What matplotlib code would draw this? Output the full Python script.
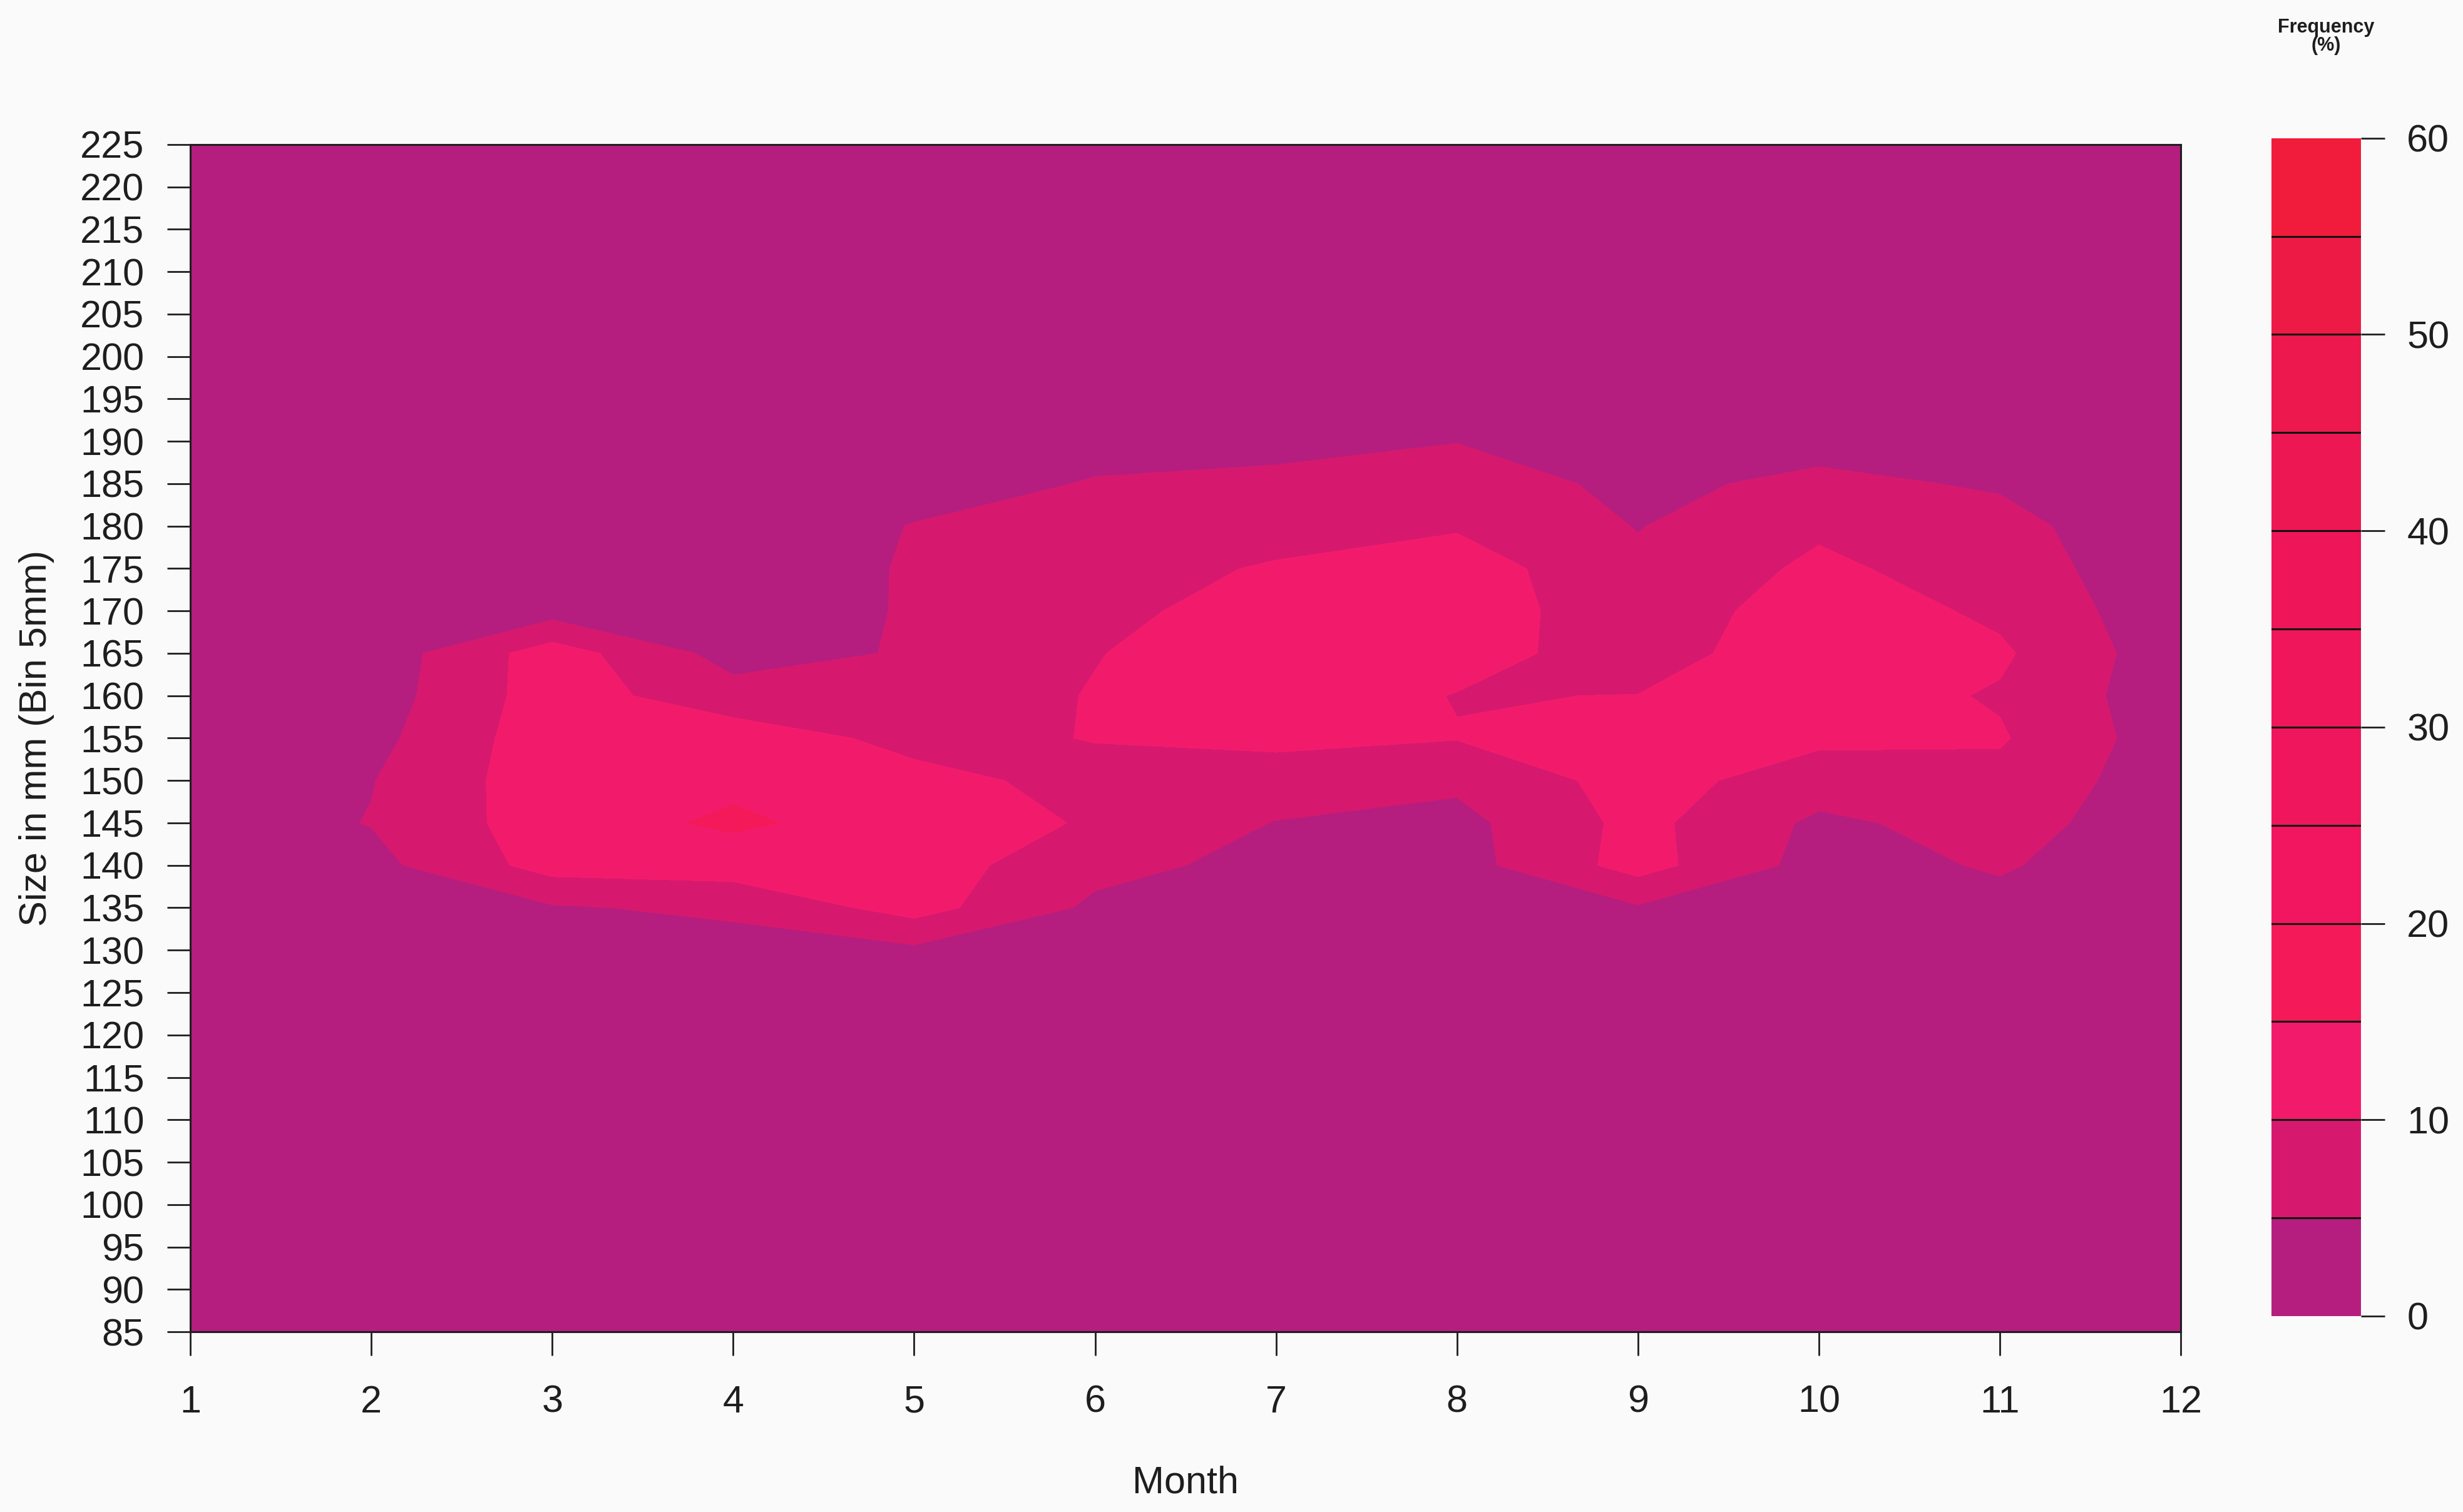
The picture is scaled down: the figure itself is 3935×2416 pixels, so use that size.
import numpy as np
import matplotlib
matplotlib.use("Agg")
import matplotlib.pyplot as plt

plt.rcParams['font.family'] = ['Liberation Sans', 'DejaVu Sans']

# Monthly length-frequency distribution (% of catch per 5 mm size class)
months = [1, 2, 3, 4, 5, 6, 7, 8, 9, 10, 11, 12]
sizes = list(range(85, 230, 5))

freq = [
    # months: 1     2     3     4     5     6     7     8     9    10    11    12
    [0.0, 0.2, 0.3, 0.5, 0.4, 0.6, 0.5, 0.4, 0.3, 0.3, 0.2, 0.1],    # 85
    [0.2, 0.3, 0.5, 0.6, 0.7, 0.8, 0.6, 0.5, 0.4, 0.3, 0.3, 0.2],    # 90
    [0.3, 0.5, 0.6, 0.8, 0.9, 1.0, 0.8, 0.7, 0.6, 0.5, 0.4, 0.2],    # 95
    [0.4, 0.6, 0.8, 1.0, 1.1, 1.2, 1.0, 0.9, 0.8, 0.6, 0.5, 0.3],    # 100
    [0.5, 0.8, 1.0, 1.2, 1.3, 1.4, 1.2, 1.0, 0.9, 0.8, 0.6, 0.4],    # 105
    [0.6, 0.9, 1.2, 1.4, 1.5, 1.6, 1.4, 1.2, 1.0, 0.9, 0.8, 0.5],    # 110
    [0.8, 1.0, 1.4, 1.6, 1.8, 1.8, 1.6, 1.4, 1.2, 1.0, 0.9, 0.6],    # 115
    [1.0, 1.2, 1.6, 1.8, 2.0, 2.0, 1.8, 1.6, 1.4, 1.2, 1.0, 0.8],    # 120
    [1.1, 1.5, 1.9, 2.2, 2.0, 2.0, 2.0, 1.8, 1.7, 1.5, 1.2, 0.9],    # 125
    [1.3, 1.8, 2.4, 3.0, 4.0, 3.0, 2.0, 2.2, 2.5, 2.0, 2.0, 1.0],    # 130
    [1.5, 2.5, 4.5, 6.0, 12.0, 4.0, 3.0, 2.5, 4.5, 2.5, 3.5, 1.2],   # 135
    [1.8, 3.5, 12.0, 12.5, 12.5, 6.5, 3.5, 3.0, 12.0, 3.0, 5.5, 1.5],  # 140
    [2.0, 5.2, 12.7, 15.8, 12.7, 9.5, 4.8, 3.5, 11.5, 4.0, 7.0, 1.8],  # 145
    [2.0, 4.8, 13.0, 14.0, 11.5, 8.5, 8.0, 6.0, 12.0, 7.5, 8.5, 2.0],  # 150
    [1.8, 3.5, 13.0, 12.9, 8.5, 10.2, 11.0, 10.2, 11.5, 11.0, 10.5, 2.0],  # 155
    [1.5, 2.5, 12.5, 6.9, 7.0, 10.3, 13.0, 9.8, 10.1, 12.5, 9.5, 1.8],  # 160
    [1.2, 2.0, 12.5, 3.0, 5.5, 9.8, 13.0, 12.0, 7.5, 13.5, 10.8, 1.8],  # 165
    [1.0, 1.5, 3.0, 2.0, 5.5, 8.5, 12.5, 13.0, 6.5, 13.0, 9.0, 1.6],  # 170
    [0.8, 1.2, 1.5, 1.8, 5.5, 8.0, 10.5, 12.5, 6.0, 11.0, 7.5, 1.5],  # 175
    [0.6, 1.0, 1.2, 1.5, 5.2, 7.0, 8.0, 9.5, 4.8, 9.2, 6.5, 1.3],    # 180
    [0.5, 0.8, 1.0, 1.2, 3.0, 5.3, 5.8, 7.0, 4.0, 6.0, 4.5, 1.0],    # 185
    [0.4, 0.6, 0.8, 1.0, 2.0, 3.5, 4.0, 4.9, 2.5, 3.5, 3.0, 0.8],    # 190
    [0.3, 0.5, 0.6, 0.8, 1.5, 2.0, 2.5, 3.0, 2.0, 2.0, 1.5, 0.6],    # 195
    [0.2, 0.4, 0.5, 0.6, 1.0, 1.2, 1.5, 1.8, 1.2, 1.2, 1.0, 0.5],    # 200
    [0.2, 0.3, 0.4, 0.5, 0.8, 0.9, 1.0, 1.2, 0.9, 0.8, 0.7, 0.4],    # 205
    [0.1, 0.2, 0.3, 0.4, 0.5, 0.6, 0.7, 0.8, 0.6, 0.6, 0.5, 0.3],    # 210
    [0.1, 0.1, 0.2, 0.3, 0.4, 0.4, 0.5, 0.5, 0.4, 0.4, 0.3, 0.2],    # 215
    [0.0, 0.1, 0.1, 0.2, 0.2, 0.3, 0.3, 0.3, 0.3, 0.2, 0.2, 0.1],    # 220
    [0.0, 0.0, 0.1, 0.1, 0.1, 0.2, 0.2, 0.2, 0.2, 0.1, 0.1, 0.0],    # 225
]

levels = list(range(0, 65, 5))
cbar_ticks = [0, 10, 20, 30, 40, 50, 60]

band_colors = [
    "#b51e7e", "#d6196e", "#f21b6b", "#f41a5a", "#f1165f", "#f0165d",
    "#ef165b", "#ee1658", "#ed1754", "#ec184e", "#ee1a46", "#f11c3b",
]

ink = "#1e1e1e"
fs = 44

fig = plt.figure(figsize=(39.35, 24.16), dpi=100, facecolor="#fbfafb")

ax = fig.add_axes([0.0773, 0.1192, 0.8081, 0.7852])
Z = np.array(freq)
ax.contourf(months, sizes, Z, levels=levels, colors=band_colors)
ax.set_xlim(1, 12)
ax.set_ylim(85, 225)

ax.set_xticks(months)
ax.set_yticks(sizes)
ax.tick_params(axis="both", direction="out", length=27, width=2, color=ink,
               labelsize=fs, labelcolor=ink)
ax.tick_params(axis="x", pad=34)
ax.tick_params(axis="y", pad=26)
for sp in ax.spines.values():
    sp.set_linewidth(2.2)
    sp.set_color(ink)

ax.set_xlabel("Month", fontsize=fs, color=ink, labelpad=52)
ax.set_ylabel("Size in mm (Bin 5mm)", fontsize=fs, color=ink, labelpad=30)

# Colour key with black dividers between classes
cax = fig.add_axes([0.9222, 0.1296, 0.0363, 0.779])
for lo, hi, c in zip(levels[:-1], levels[1:], band_colors):
    cax.axhspan(lo, hi, color=c, lw=0)
for lv in levels[1:-1]:
    cax.axhline(lv, color="#111111", lw=2.2)
cax.set_xlim(0, 1)
cax.set_ylim(0, 60)
cax.set_xticks([])
cax.yaxis.tick_right()
cax.set_yticks(cbar_ticks)
cax.tick_params(axis="y", direction="out", length=27, width=2, color=ink,
                labelsize=fs, labelcolor=ink, pad=26)
for sp in cax.spines.values():
    sp.set_visible(False)

fig.text(0.9445, 0.988, "Frequency\n(%)", ha="center", va="top",
         fontsize=22, fontweight="bold", color=ink, linespacing=0.95)

fig.savefig("out.png", dpi=100, facecolor=fig.get_facecolor())
